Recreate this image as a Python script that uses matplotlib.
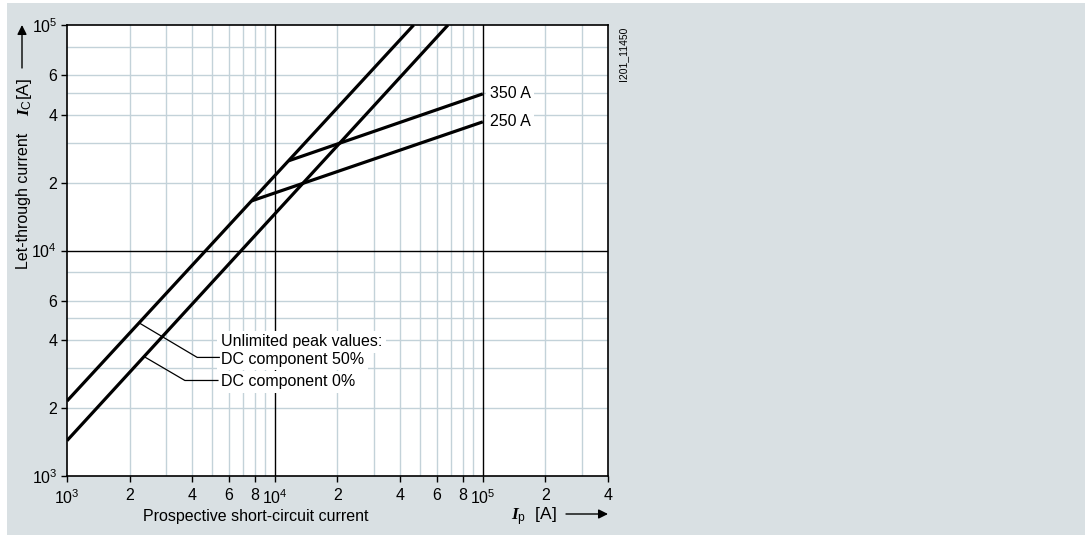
import matplotlib
matplotlib.use('Agg')
import matplotlib.pyplot as plt
from matplotlib.patches import Rectangle
from matplotlib.ticker import NullLocator

plt.rcParams['font.family'] = ['Liberation Sans', 'DejaVu Sans']
plt.rcParams['mathtext.fontset'] = 'custom'
plt.rcParams['mathtext.rm'] = 'Liberation Sans'
plt.rcParams['mathtext.it'] = 'Liberation Serif:italic:bold'

# curves: prospective current Ip [A] -> let-through current Ic [A]
ip_dc50 = [1000, 46500]
ic_dc50 = [2150, 100000]
ip_dc0 = [1000, 68000]
ic_dc0 = [1435, 100000]
ip_350 = [11650, 100000]
ic_350 = [25000, 49500]
ip_250 = [7730, 100000]
ic_250 = [16600, 37200]

x_ticks = [1e3, 2e3, 4e3, 6e3, 8e3, 1e4, 2e4, 4e4, 6e4, 8e4, 1e5, 2e5, 4e5]
x_labels = [r'$\mathregular{10^3}$', '2', '4', '6', '8', r'$\mathregular{10^4}$',
            '2', '4', '6', '8', r'$\mathregular{10^5}$', '2', '4']
y_ticks = [1e3, 2e3, 4e3, 6e3, 1e4, 2e4, 4e4, 6e4, 1e5]
y_labels = [r'$\mathregular{10^3}$', '2', '4', '6', r'$\mathregular{10^4}$',
            '2', '4', '6', r'$\mathregular{10^5}$']
x_grid = [2e3, 3e3, 4e3, 5e3, 6e3, 7e3, 8e3, 9e3,
          2e4, 3e4, 4e4, 5e4, 6e4, 7e4, 8e4, 9e4, 2e5, 3e5]
y_grid = [2e3, 3e3, 4e3, 5e3, 6e3, 8e3, 2e4, 3e4, 4e4, 5e4, 6e4, 8e4]

GRID = '#c3d2d9'
FS = 11.5

fig = plt.figure(figsize=(10.85, 5.36), dpi=100)
fig.patches.append(Rectangle((7/1085, 1/536), 1 - 7/1085, 1 - 4/536,
                             transform=fig.transFigure, facecolor='#d9e0e3',
                             edgecolor='none', zorder=-5))
ax = fig.add_axes([67/1085, 1 - 476/536, (608 - 67)/1085, (476 - 25)/536])
ax.set_xscale('log')
ax.set_yscale('log')
ax.set_xlim(1e3, 4e5)
ax.set_ylim(1e3, 1e5)
ax.set_facecolor('white')

for v in x_grid:
    ax.axvline(v, color=GRID, lw=1, zorder=1)
for v in y_grid:
    ax.axhline(v, color=GRID, lw=1, zorder=1)
ax.axvline(1e4, color='black', lw=1, zorder=2)
ax.axvline(1e5, color='black', lw=1, zorder=2)
ax.axhline(1e4, color='black', lw=1, zorder=2)

for xs, ys in [(ip_dc50, ic_dc50), (ip_dc0, ic_dc0), (ip_350, ic_350), (ip_250, ic_250)]:
    ax.plot(xs, ys, color='black', lw=2.3, zorder=5, solid_capstyle='butt')

# leader lines for the note
ax.plot([2244, 4230, 5400], [4750, 3356, 3356], color='black', lw=0.9, zorder=4)
ax.plot([2371, 3690, 5320], [3367, 2652, 2652], color='black', lw=0.9, zorder=4)

box = dict(facecolor='white', edgecolor='none', pad=2.5)
ax.text(5500, 3940, 'Unlimited peak values:', ha='left', va='center', fontsize=FS, bbox=box, zorder=3)
ax.text(5500, 3300, 'DC component 50%', ha='left', va='center', fontsize=FS, bbox=box, zorder=3)
ax.text(5500, 2620, 'DC component 0%', ha='left', va='center', fontsize=FS, bbox=box, zorder=3)
ax.text(1.08e5, ic_350[-1], '350 A', ha='left', va='center', fontsize=FS, bbox=box, zorder=3)
ax.text(1.08e5, ic_250[-1], '250 A', ha='left', va='center', fontsize=FS, bbox=box, zorder=3)

ax.set_xticks(x_ticks, x_labels)
ax.set_yticks(y_ticks, y_labels)
ax.xaxis.set_minor_locator(NullLocator())
ax.yaxis.set_minor_locator(NullLocator())
ax.tick_params(direction='out', length=4, width=1, labelsize=FS)
ax.tick_params(axis='x', pad=5)
ax.tick_params(axis='y', pad=3)
for s in ax.spines.values():
    s.set_linewidth(1.2)
    s.set_zorder(6)

# axis titles with arrows
fig.text(24/1085, 1 - 201/536, 'Let-through current', rotation=90, ha='center', va='center', fontsize=FS)
fig.text(25/1085, 1 - 97/536, r'$\mathit{I}_\mathrm{C}$[A]', rotation=90, ha='center', va='center', fontsize=12.5)
fig.text(256/1085, 1 - 516/536, 'Prospective short-circuit current', ha='center', va='center', fontsize=FS)
fig.text(534/1085, 1 - 517/536, r'$\mathit{I}_\mathrm{p}$  [A]', ha='center', va='center', fontsize=12.5)
arrow = dict(arrowstyle='-|>', color='black', lw=1, mutation_scale=14, shrinkA=0, shrinkB=0)
ax.annotate('', xy=(22/1085, 1 - 25/536), xytext=(22/1085, 1 - 68/536),
            xycoords='figure fraction', textcoords='figure fraction', arrowprops=arrow)
ax.annotate('', xy=(608/1085, 1 - 514/536), xytext=(566/1085, 1 - 514/536),
            xycoords='figure fraction', textcoords='figure fraction', arrowprops=arrow)
fig.text(623/1085, 1 - 54/536, 'I201_11450', rotation=90, ha='center', va='center', fontsize=7.5)

fig.savefig('out.png', dpi=100)
